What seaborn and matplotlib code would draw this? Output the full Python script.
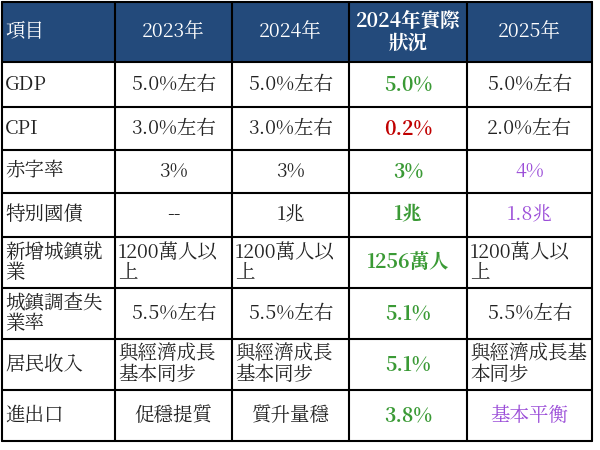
import seaborn as sns
import matplotlib.pyplot as plt
from matplotlib import font_manager
from matplotlib.patches import Rectangle

sns.set_theme(style="white")
cjk = [f.name for f in font_manager.fontManager.ttflist if "CJK" in f.name]
tc = [n for n in cjk if "TC" in n]
family = (tc or cjk or ["DejaVu Sans"])[0]
plt.rcParams["font.family"] = [family, "DejaVu Sans"]

header = ["項目", "2023年", "2024年", "2024年實際\n狀況", "2025年"]
items = ["GDP", "CPI", "赤字率", "特別國債", "新增城鎮就\n業", "城鎮調查失\n業率", "居民收入", "進出口"]
y2023 = ["5.0%左右", "3.0%左右", "3%", "--", "1200萬人以\n上", "5.5%左右", "與經濟成長\n基本同步", "促穩提質"]
y2024 = ["5.0%左右", "3.0%左右", "3%", "1兆", "1200萬人以\n上", "5.5%左右", "與經濟成長\n基本同步", "質升量穩"]
actual = ["5.0%", "0.2%", "3%", "1兆", "1256萬人", "5.1%", "5.1%", "3.8%"]
y2025 = ["5.0%左右", "2.0%左右", "4%", "1.8兆", "1200萬人以\n上", "5.5%左右", "與經濟成長基\n本同步", "基本平衡"]

green, red, purple, dark = "#3a9a35", "#c00000", "#9b4dd8", "#222222"
actual_colors = [green, red, green, green, green, green, green, green]
y2025_colors = [dark, dark, purple, purple, dark, dark, dark, purple]

col_edges = [2, 115, 232, 349, 467, 592]
row_edges = [2, 62, 107, 150, 193, 237, 288, 339, 390, 441]
fs = 14

fig = plt.figure(figsize=(6, 4.5), dpi=100)
ax = fig.add_axes([0, 0, 1, 1])
ax.set_xlim(0, 600)
ax.set_ylim(450, 0)
ax.axis("off")

ax.add_patch(Rectangle((col_edges[0], row_edges[0]), col_edges[-1] - col_edges[0],
                       row_edges[1] - row_edges[0], facecolor="#234a7b", edgecolor="none"))

for c, txt in enumerate(header):
    x0, x1 = col_edges[c], col_edges[c + 1]
    yc = (row_edges[0] + row_edges[1]) / 2
    if c == 0:
        ax.text(x0 + 3, yc, txt, color="white", fontsize=fs, va="center", ha="left")
    else:
        ax.text((x0 + x1) / 2, yc, txt, color="white", fontsize=fs, va="center", ha="center",
                fontweight="bold" if c == 3 else "normal", linespacing=1.0)

columns = [(y2023, [dark] * 8), (y2024, [dark] * 8), (actual, actual_colors), (y2025, y2025_colors)]
for r, name in enumerate(items):
    y0, y1 = row_edges[r + 1], row_edges[r + 2]
    yc = (y0 + y1) / 2
    ax.text(col_edges[0] + 3, yc, name, color=dark, fontsize=fs, va="center", ha="left", linespacing=1.0)
    for c, (vals, cols) in enumerate(columns, start=1):
        x0, x1 = col_edges[c], col_edges[c + 1]
        txt = vals[r]
        if "\n" in txt:
            ax.text(x0 + 3, yc, txt, color=cols[r], fontsize=fs, va="center", ha="left", linespacing=1.0)
        else:
            ax.text((x0 + x1) / 2, yc, txt, color=cols[r], fontsize=fs, va="center", ha="center",
                    fontweight="bold" if c == 3 else "normal")

for x in col_edges:
    ax.plot([x, x], [row_edges[0], row_edges[-1]], color="black", lw=1.5)
for y in row_edges:
    ax.plot([col_edges[0], col_edges[-1]], [y, y], color="black", lw=1.5)

fig.savefig("out.png", dpi=100)
